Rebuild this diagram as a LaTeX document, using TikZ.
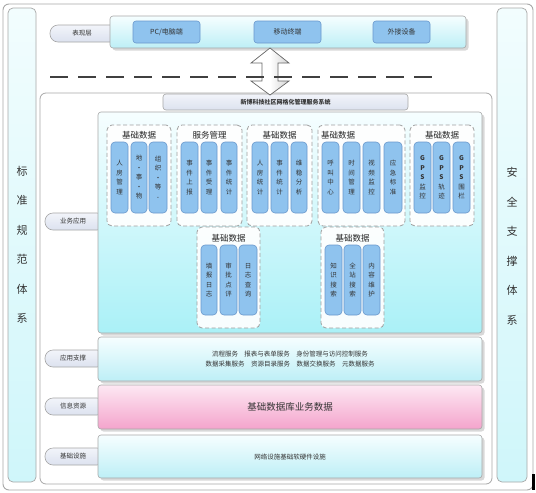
\documentclass[tikz,border=0pt]{standalone}
\usepackage{fontspec}
\setmainfont{Noto Sans CJK SC}
\usetikzlibrary{shadows}
\definecolor{bandtop}{HTML}{F6FEFF}
\definecolor{bandbot}{HTML}{BDEFF6}
\definecolor{pinktop}{HTML}{FDE8F3}
\definecolor{pinkbot}{HTML}{F4A4CC}
\definecolor{blkfill}{HTML}{8FC3EE}
\definecolor{blkline}{HTML}{6A98CC}
\definecolor{pilltop}{HTML}{F2F4FA}
\definecolor{pillbot}{HTML}{DCE2EF}
\definecolor{framec}{HTML}{A8A8A8}
\definecolor{txt}{HTML}{333333}
\definecolor{sidetop}{HTML}{F2FDFE}
\definecolor{sidebot}{HTML}{CFF6FA}
\newcommand\rbox[7]{\node[#1, minimum width={(#5)-(#3)}, minimum height={(#6)-(#4)}] (#2) at ({((#3)+(#5))/2},{((#4)+(#6))/2}) {#7};}
\begin{document}
\begin{tikzpicture}[x=1pt,y=-1pt,
  every node/.style={inner sep=0pt, outer sep=0pt, text=txt},
  frame/.style={draw=framec, line width=0.9pt, rounded corners=6pt, fill=white},
  sidecol/.style={draw=framec, line width=0.7pt, rounded corners=5pt, top color=sidetop, bottom color=sidebot, font=\fontsize{11}{29.5}\selectfont, align=center},
  band/.style={draw=framec, line width=0.6pt, rounded corners=3pt, top color=bandtop, bottom color=bandbot, drop shadow={shadow xshift=2.5pt, shadow yshift=-2.5pt, opacity=0.3, fill=gray}},
  pinkband/.style={band, top color=pinktop, bottom color=pinkbot},
  pill/.style={draw=gray!70, line width=0.6pt, rounded corners=8pt, top color=pilltop, bottom color=pillbot},
  blk/.style={draw=blkline, line width=0.6pt, fill=blkfill, rounded corners=3pt, font=\fontsize{7}{8}\selectfont},
  grp/.style={draw=gray!75, line width=0.8pt, dash pattern=on 4pt off 2.5pt, rounded corners=5pt, fill=white, fill opacity=0.92, text opacity=1},
  col/.style={draw=blkline, line width=0.6pt, fill=blkfill, rounded corners=4pt, font=\fontsize{6.5}{9.5}\selectfont, align=center},
  gtitle/.style={font=\fontsize{8.5}{9}\selectfont, text=gray!30!black},
  lbl/.style={font=\fontsize{6.5}{7}\selectfont}
]
\useasboundingbox (0,0) rectangle (536,493);
\fill[white] (0,0) rectangle (536,493);
% outer frame
\rbox{frame}{outer}{3}{4}{533}{490}{}
\rbox{sidecol}{stdcol}{8}{8}{36}{482}{}
\node[font=\fontsize{11}{29.5}\selectfont, align=center] (stdtxt) at (22,245) {标\\准\\规\\范\\体\\系};
\rbox{sidecol}{seccol}{497}{8}{527}{482}{}
\node[font=\fontsize{11}{29.5}\selectfont, align=center] (sectxt) at (512,246) {安\\全\\支\\撑\\体\\系};
% presentation layer
\rbox{pill}{pres}{50}{25}{120}{42}{}
\node[lbl] (prestxt) at (82,33.5) {表现层};
\rbox{band}{presband}{110}{16}{466}{48}{}
\rbox{blk}{pc}{133}{21}{200}{43}{PC/电脑端}
\rbox{blk}{mob}{254}{21}{321}{43}{移动终端}
\rbox{blk}{ext}{373}{21}{430}{43}{外接设备}
% system frame
\draw[framec, line width=0.8pt, rounded corners=6pt, fill=white] (40,93) rectangle (492,484);
\rbox{pill, rounded corners=3pt, top color=pilltop, bottom color=pillbot}{systab}{163}{94}{408}{110}{\fontsize{6}{7}\selectfont\bfseries 新博科技社区网格化管理服务系统}
% double arrow
\coordinate (atop) at (270,48);
\coordinate (abot) at (270,95);
\draw[gray!80!black, line width=0.7pt, left color=white, right color=gray!35, middle color=white]
  (atop) -- (289,63) -- (278,63) -- (278,81) -- (289,81) -- (abot) -- (251,81) -- (262,81) -- (262,63) -- (251,63) -- cycle;
% dashed line
\coordinate (dl) at (50,77);
\coordinate (dr) at (438,77);
\draw[black!75, line width=2pt, dash pattern=on 18pt off 10pt] (dl) -- (dr);
% business application
\rbox{pill}{bizpill}{45}{213}{105}{230}{}
\node[lbl] (biztxt) at (73,221.5) {业务应用};
\rbox{band, top color=bandtop, bottom color=bandbot!90!cyan}{bizband}{98}{112}{482}{333}{}
% groups row 1
\rbox{grp}{g1}{107}{125}{171}{226}{}
\rbox{grp}{g2}{177}{125}{242}{226}{}
\rbox{grp}{g3}{247}{125}{312}{226}{}
\rbox{grp}{g4}{318}{125}{405}{226}{}
\rbox{grp}{g5}{410}{125}{474}{226}{}
\node[gtitle] (g1t) at (139,135) {基础数据};
\node[gtitle] (g2t) at (209.5,135) {服务管理};
\node[gtitle] (g3t) at (279.5,135) {基础数据};
\node[gtitle, anchor=west] (g4t) at (321,135) {基础数据};
\node[gtitle] (g5t) at (442,135) {基础数据};
\rbox{col}{c11}{111}{142}{128}{213}{人\\房\\管\\理}
\rbox{col}{c12}{131}{142}{147}{213}{地\\·\\事\\·\\物}
\rbox{col}{c13}{149}{142}{167}{213}{组\\织\\·\\等\\-}
\rbox{col}{c21}{181}{142}{198}{213}{事\\件\\上\\报}
\rbox{col}{c22}{201}{142}{217}{213}{事\\件\\受\\理}
\rbox{col}{c23}{221}{142}{237}{213}{事\\件\\统\\计}
\rbox{col}{c31}{252}{142}{268}{213}{人\\房\\统\\计}
\rbox{col}{c32}{271}{142}{288}{213}{事\\件\\统\\计}
\rbox{col}{c33}{291}{142}{307}{213}{维\\稳\\分\\析}
\rbox{col}{c41}{322}{142}{339}{213}{呼\\叫\\中\\心}
\rbox{col}{c42}{343}{142}{360}{213}{时\\间\\管\\理}
\rbox{col}{c43}{363}{142}{380}{213}{视\\频\\监\\控}
\rbox{col}{c44}{384}{142}{402}{213}{应\\急\\标\\准}
\rbox{col}{c51}{414}{142}{431}{213}{\textbf{G}\\\textbf{P}\\\textbf{S}\\监\\控}
\rbox{col}{c52}{433}{142}{450}{213}{\textbf{G}\\\textbf{P}\\\textbf{S}\\轨\\迹}
\rbox{col}{c53}{453}{142}{470}{213}{\textbf{G}\\\textbf{P}\\\textbf{S}\\围\\栏}
% groups row 2
\rbox{grp}{g6}{197}{227}{260}{328}{}
\rbox{grp}{g7}{321}{227}{384}{328}{}
\node[gtitle] (g6t) at (228.5,238) {基础数据};
\node[gtitle] (g7t) at (352.5,238) {基础数据};
\rbox{col}{c61}{201}{245}{217}{315}{填\\报\\日\\志}
\rbox{col}{c62}{220}{245}{237}{315}{审\\批\\点\\评}
\rbox{col}{c63}{239}{245}{257}{315}{日\\志\\查\\询}
\rbox{col}{c71}{325}{245}{342}{315}{知\\识\\搜\\索}
\rbox{col}{c72}{344}{245}{361}{315}{全\\站\\搜\\索}
\rbox{col}{c73}{363}{245}{380}{315}{内\\容\\维\\护}
% application support
\rbox{pill}{asppill}{45}{350}{105}{367}{}
\node[lbl] (asptxt) at (73,358.5) {应用支撑};
\rbox{band}{aspband}{98}{337}{482}{381}{}
\node[font=\fontsize{6.5}{9.5}\selectfont, align=center] (asptext) at (290,359) {流程服务\quad 报表与表单服务\quad 身份管理与访问控制服务\\数据采集服务\quad 资源目录服务\quad 数据交换服务\quad 元数据服务};
% information resources
\rbox{pill}{infpill}{45}{398}{105}{415}{}
\node[lbl] (inftxt) at (73,406.5) {信息资源};
\rbox{pinkband, font=\fontsize{9.5}{10}\selectfont}{infband}{98}{385}{482}{429}{基础数据库业务数据}
% infrastructure
\rbox{pill}{baspill}{45}{448}{105}{465}{}
\node[lbl] (bastxt) at (73,456.5) {基础设施};
\rbox{band}{basband}{98}{435}{482}{478}{}
\node[font=\fontsize{6.5}{7}\selectfont] (bastext) at (basband) {网络设施基础软硬件设施};
% small mark
\fill[black] (532,474) rectangle (534.5,490);
\end{tikzpicture}
\end{document}
